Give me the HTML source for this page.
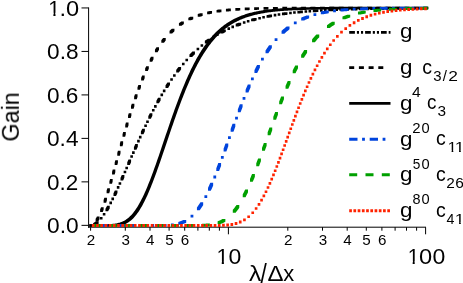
<!DOCTYPE html><html><head><meta charset="utf-8"><style>html,body{margin:0;padding:0;background:#fff}svg{display:block}text{font-family:"Liberation Sans",sans-serif;fill:#000}</style></head><body>
<svg width="463" height="283" viewBox="0 0 463 283">
<rect width="463" height="283" fill="#fff"/>
<g stroke="#000" stroke-width="1" fill="none">
<path d="M88.6 7.45V227.7"/>
<path d="M88.1 227.2H426"/>
<path d="M81.5 7.95H88.6"/>
<path d="M81.5 51.43H88.6"/>
<path d="M81.5 94.91H88.6"/>
<path d="M81.5 138.39H88.6"/>
<path d="M81.5 181.87H88.6"/>
<path d="M81.5 225.35H88.6"/>
<path d="M90.6 227.2V230.7"/>
<path d="M125.3 227.2V230.7"/>
<path d="M150.0 227.2V230.7"/>
<path d="M169.1 227.2V230.7"/>
<path d="M184.7 227.2V230.7"/>
<path d="M197.9 227.2V230.7"/>
<path d="M209.3 227.2V230.7"/>
<path d="M219.4 227.2V230.7"/>
<path d="M287.8 227.2V230.7"/>
<path d="M322.5 227.2V230.7"/>
<path d="M347.2 227.2V230.7"/>
<path d="M366.3 227.2V230.7"/>
<path d="M381.9 227.2V230.7"/>
<path d="M395.1 227.2V230.7"/>
<path d="M406.5 227.2V230.7"/>
<path d="M416.6 227.2V230.7"/>
<path d="M228.4 227.2V234.3"/>
<path d="M425.6 227.2V234.3"/>
</g>
<path fill="#000" d="M93.11 225.79L93.11 223.19L93.11 223.18L93.79 222.81L94.46 222.37L95.13 221.88L95.80 221.34L96.04 221.14L98.64 221.14L98.64 223.74L98.40 223.94L97.73 224.48L97.06 224.97L96.39 225.41L95.71 225.78L95.71 225.79ZM99.93 219.56L99.93 216.96L99.93 216.96L102.53 216.96L102.53 219.56L102.53 219.56ZM102.80 215.59L102.80 212.99L102.80 212.99L105.40 212.99L105.40 215.59L105.40 215.59ZM105.45 211.33L105.45 208.73L105.50 208.64L106.18 207.48L106.85 206.29L107.12 205.80L109.72 205.80L109.72 208.40L109.45 208.89L108.78 210.08L108.10 211.24L108.05 211.33ZM109.40 204.14L109.40 201.54L109.40 201.54L112.00 201.54L112.00 204.14L112.00 204.14ZM111.42 200.16L111.42 197.56L111.42 197.56L114.02 197.56L114.02 200.16L114.02 200.16ZM113.48 195.91L113.48 193.31L113.52 193.23L114.19 191.81L114.86 190.38L117.46 190.38L117.46 192.98L116.79 194.41L116.12 195.83L116.08 195.91ZM116.82 188.72L116.82 186.12L116.82 186.12L119.42 186.12L119.42 188.72L119.42 188.72ZM118.61 184.74L118.61 182.14L118.61 182.14L121.21 182.14L121.21 184.74L121.21 184.74ZM120.50 180.48L120.50 177.88L120.53 177.83L121.20 176.30L121.79 174.95L124.39 174.95L124.39 177.55L123.80 178.90L123.13 180.43L123.10 180.48ZM123.65 173.30L123.65 170.70L123.65 170.70L126.25 170.70L126.25 173.30L126.25 173.30ZM125.37 169.32L125.37 166.72L125.37 166.72L127.97 166.72L127.97 169.32L127.97 169.32ZM127.22 165.06L127.22 162.46L127.26 162.37L127.93 160.81L128.48 159.53L131.08 159.53L131.08 162.13L130.53 163.41L129.86 164.97L129.82 165.06ZM130.33 157.87L130.33 155.27L130.33 155.27L132.93 155.27L132.93 157.87L132.93 157.87ZM132.07 153.90L132.07 151.30L132.07 151.30L134.67 151.30L134.67 153.90L134.67 153.90ZM133.94 149.64L133.94 147.04L133.98 146.93L134.66 145.41L135.23 144.11L137.83 144.11L137.83 146.71L137.26 148.01L136.58 149.53L136.54 149.64ZM137.14 142.45L137.14 139.85L137.14 139.85L139.74 139.85L139.74 142.45L139.74 142.45ZM138.94 138.47L138.94 135.87L138.94 135.87L141.54 135.87L141.54 138.47L141.54 138.47ZM140.89 134.21L140.89 131.61L140.94 131.52L141.61 130.07L142.26 128.69L144.86 128.69L144.86 131.29L144.21 132.67L143.54 134.12L143.49 134.21ZM144.27 127.03L144.27 124.43L144.27 124.43L146.87 124.43L146.87 127.03L146.87 127.03ZM146.19 123.05L146.19 120.45L146.19 120.45L148.79 120.45L148.79 123.05L148.79 123.05ZM148.29 118.79L148.29 116.19L148.34 116.10L149.01 114.76L149.68 113.43L149.77 113.26L152.37 113.26L152.37 115.86L152.28 116.03L151.61 117.36L150.94 118.70L150.89 118.79ZM151.96 111.60L151.96 109.00L151.96 109.00L154.56 109.00L154.56 111.60L154.56 111.60ZM154.06 107.63L154.06 105.03L154.06 105.03L156.66 105.03L156.66 107.63L156.66 107.63ZM156.38 103.37L156.38 100.77L156.41 100.72L157.08 99.51L157.76 98.31L158.02 97.84L160.62 97.84L160.62 100.44L160.36 100.91L159.68 102.11L159.01 103.32L158.98 103.37ZM160.48 96.18L160.48 93.58L160.48 93.58L163.08 93.58L163.08 96.18L163.08 96.18ZM162.86 92.20L162.86 89.60L162.86 89.60L165.46 89.60L165.46 92.20L165.46 92.20ZM165.51 87.95L165.51 85.35L165.55 85.28L166.22 84.23L166.89 83.19L167.40 82.42L170.00 82.42L170.00 85.02L169.49 85.79L168.82 86.83L168.15 87.88L168.11 87.95ZM170.25 80.76L170.25 78.16L170.25 78.16L172.85 78.16L172.85 80.76L172.85 80.76ZM173.05 76.78L173.05 74.18L173.05 74.18L175.65 74.18L175.65 76.78L175.65 76.78ZM176.20 72.52L176.20 69.92L176.26 69.85L176.93 68.97L177.60 68.11L178.28 67.25L178.48 66.99L181.08 66.99L181.08 69.59L180.88 69.85L180.20 70.71L179.53 71.57L178.86 72.45L178.80 72.52ZM181.97 65.33L181.97 62.73L181.97 62.73L184.57 62.73L184.57 65.33L184.57 65.33ZM185.44 61.36L185.44 58.76L185.44 58.76L188.04 58.76L188.04 61.36L188.04 61.36ZM189.43 57.10L189.43 54.50L189.43 54.50L190.11 53.81L190.78 53.13L191.45 52.47L192.12 51.81L192.34 51.59L194.94 51.59L194.94 54.19L194.72 54.41L194.05 55.07L193.38 55.73L192.71 56.41L192.03 57.10L192.03 57.10ZM196.60 50.24L196.60 47.64L196.60 47.64L199.20 47.64L199.20 50.24L199.20 50.24ZM200.58 46.83L200.58 44.23L200.58 44.23L203.18 44.23L203.18 46.83L203.18 46.83ZM204.84 43.48L204.84 40.88L204.85 40.87L205.52 40.36L206.20 39.87L206.87 39.38L207.54 38.89L207.77 38.74L210.37 38.74L210.37 41.34L210.14 41.49L209.47 41.98L208.80 42.47L208.12 42.96L207.45 43.47L207.44 43.48ZM212.02 38.45L212.02 35.85L212.02 35.85L214.62 35.85L214.62 38.45L214.62 38.45ZM216.00 35.97L216.00 33.37L216.00 33.37L218.60 33.37L218.60 35.97L218.60 35.97ZM220.26 33.55L220.26 30.95L220.27 30.94L220.94 30.58L221.62 30.22L222.29 29.87L222.96 29.52L223.19 29.40L225.79 29.40L225.79 32.00L225.56 32.12L224.89 32.47L224.22 32.82L223.54 33.18L222.87 33.54L222.86 33.55ZM227.45 29.92L227.45 27.32L227.45 27.32L230.05 27.32L230.05 29.92L230.05 29.92ZM231.42 28.15L231.42 25.55L231.42 25.55L234.02 25.55L234.02 28.15L234.02 28.15ZM235.68 26.41L235.68 23.81L235.69 23.81L236.36 23.55L237.03 23.30L237.71 23.04L238.38 22.80L238.61 22.71L241.21 22.71L241.21 25.31L240.98 25.40L240.31 25.64L239.63 25.90L238.96 26.15L238.29 26.41L238.28 26.41ZM242.87 23.83L242.87 21.23L242.87 21.23L245.47 21.23L245.47 23.83L245.47 23.83ZM246.85 22.57L246.85 19.97L246.85 19.97L249.45 19.97L249.45 22.57L249.45 22.57ZM251.11 21.34L251.11 18.74L251.16 18.72L251.83 18.54L252.51 18.36L253.18 18.18L253.85 18.00L254.04 17.95L256.64 17.95L256.64 20.55L256.45 20.60L255.78 20.78L255.11 20.96L254.43 21.14L253.76 21.32L253.71 21.34ZM258.29 19.51L258.29 16.91L258.29 16.91L260.89 16.91L260.89 19.51L260.89 19.51ZM262.27 18.61L262.27 16.01L262.27 16.01L264.87 16.01L264.87 18.61L264.87 18.61ZM266.53 17.74L266.53 15.14L266.58 15.13L267.25 15.00L267.93 14.88L268.60 14.75L269.27 14.63L269.46 14.59L272.06 14.59L272.06 17.19L271.87 17.23L271.20 17.35L270.53 17.48L269.85 17.60L269.18 17.73L269.13 17.74ZM273.72 16.45L273.72 13.85L273.72 13.85L276.32 13.85L276.32 16.45L276.32 16.45ZM277.69 15.83L277.69 13.23L277.69 13.23L280.29 13.23L280.29 15.83L280.29 15.83ZM281.95 15.21L281.95 12.61L282.00 12.61L282.67 12.52L283.34 12.43L284.02 12.34L284.69 12.25L284.88 12.23L287.48 12.23L287.48 14.83L287.29 14.85L286.62 14.94L285.94 15.03L285.27 15.12L284.60 15.21L284.55 15.21ZM289.14 14.31L289.14 11.71L289.14 11.71L291.74 11.71L291.74 14.31L291.74 14.31ZM293.12 13.87L293.12 11.27L293.12 11.27L295.72 11.27L295.72 13.87L295.72 13.87ZM297.38 13.44L297.38 10.84L297.42 10.83L298.09 10.77L298.76 10.71L299.43 10.64L300.11 10.58L300.30 10.56L302.90 10.56L302.90 13.16L302.71 13.18L302.03 13.24L301.36 13.31L300.69 13.37L300.02 13.43L299.98 13.44ZM304.56 12.80L304.56 10.20L304.56 10.20L307.16 10.20L307.16 12.80L307.16 12.80ZM308.54 12.49L308.54 9.89L308.54 9.89L311.14 9.89L311.14 12.49L311.14 12.49ZM312.80 12.19L312.80 9.59L312.83 9.59L313.51 9.54L314.18 9.50L314.85 9.46L315.53 9.41L315.73 9.40L318.33 9.40L318.33 12.00L318.13 12.01L317.45 12.06L316.78 12.10L316.11 12.14L315.43 12.19L315.40 12.19ZM319.99 11.75L319.99 9.15L319.99 9.15L322.59 9.15L322.59 11.75L322.59 11.75ZM323.96 11.53L323.96 8.93L323.96 8.93L326.56 8.93L326.56 11.53L326.56 11.53ZM328.22 11.32L328.22 8.72L328.25 8.72L328.92 8.69L329.60 8.66L330.27 8.63L330.94 8.60L331.15 8.59L333.75 8.59L333.75 11.19L333.54 11.20L332.87 11.23L332.20 11.26L331.52 11.29L330.85 11.32L330.82 11.32ZM335.41 11.01L335.41 8.41L335.41 8.41L338.01 8.41L338.01 11.01L338.01 11.01ZM339.39 10.86L339.39 8.26L339.39 8.26L341.99 8.26L341.99 10.86L341.99 10.86ZM343.64 10.71L343.64 8.11L343.67 8.11L344.34 8.09L345.02 8.07L345.69 8.04L346.36 8.02L346.57 8.02L349.17 8.02L349.17 10.62L348.96 10.62L348.29 10.64L347.62 10.67L346.94 10.69L346.27 10.71L346.24 10.71ZM350.83 10.49L350.83 7.89L350.83 7.89L353.43 7.89L353.43 10.49L353.43 10.49ZM354.81 10.39L354.81 7.79L354.81 7.79L357.41 7.79L357.41 10.39L357.41 10.39ZM359.07 10.28L359.07 7.68L359.09 7.68L359.76 7.67L360.43 7.65L361.11 7.64L361.78 7.62L362.00 7.62L364.60 7.62L364.60 10.22L364.38 10.22L363.71 10.24L363.03 10.25L362.36 10.27L361.69 10.28L361.67 10.28ZM366.25 10.13L366.25 7.53L366.25 7.53L368.85 7.53L368.85 10.13L368.85 10.13ZM370.23 10.06L370.23 7.46L370.23 7.46L372.83 7.46L372.83 10.06L372.83 10.06ZM374.49 9.99L374.49 7.39L374.51 7.39L375.18 7.38L375.85 7.37L376.52 7.35L377.20 7.34L377.42 7.34L380.02 7.34L380.02 9.94L379.80 9.94L379.12 9.95L378.45 9.97L377.78 9.98L377.11 9.99L377.09 9.99ZM381.68 9.88L381.68 7.28L381.68 7.28L384.28 7.28L384.28 9.88L384.28 9.88ZM385.65 9.83L385.65 7.23L385.65 7.23L388.25 7.23L388.25 9.83L388.25 9.83ZM389.91 9.78L389.91 7.18L389.92 7.18L390.60 7.17L391.27 7.16L391.94 7.16L392.62 7.15L392.84 7.15L395.44 7.15L395.44 9.75L395.22 9.75L394.54 9.76L393.87 9.76L393.20 9.77L392.52 9.78L392.51 9.78ZM397.10 9.71L397.10 7.11L397.10 7.11L399.70 7.11L399.70 9.71L399.70 9.71ZM401.08 9.67L401.08 7.07L401.08 7.07L403.68 7.07L403.68 9.67L403.68 9.67ZM405.34 9.63L405.34 7.03L405.34 7.03L406.02 7.03L406.69 7.02L407.36 7.02L408.03 7.01L408.27 7.01L410.87 7.01L410.87 9.61L410.63 9.61L409.96 9.62L409.29 9.62L408.62 9.63L407.94 9.63L407.94 9.63ZM412.52 9.58L412.52 6.98L412.52 6.98L415.12 6.98L415.12 9.58L415.12 9.58ZM416.50 9.56L416.50 6.96L416.50 6.96L419.10 6.96L419.10 9.56L419.10 9.56ZM420.76 9.53L420.76 6.93L420.76 6.93L421.43 6.93L422.11 6.93L422.78 6.92L423.45 6.92L423.69 6.92L426.29 6.92L426.29 9.52L426.05 9.52L425.38 9.52L424.71 9.53L424.03 9.53L423.36 9.53L423.36 9.53Z"/>
<path fill="#000" d="M89.30 226.80L89.30 224.20L89.32 224.20L91.92 224.20L91.92 226.80L91.90 226.80ZM95.60 221.46L95.60 218.86L95.64 218.80L96.31 217.66L96.91 216.56L99.51 216.56L99.51 219.16L98.91 220.26L98.24 221.40L98.20 221.46ZM100.14 212.06L100.14 209.46L100.18 209.37L100.85 207.67L101.04 207.16L103.64 207.16L103.64 209.76L103.45 210.27L102.78 211.97L102.74 212.06ZM103.59 202.66L103.59 200.06L103.60 200.03L104.27 198.02L104.35 197.76L106.95 197.76L106.95 200.36L106.87 200.62L106.20 202.63L106.19 202.66ZM106.60 193.26L106.60 190.66L106.62 190.59L107.30 188.38L107.30 188.36L109.90 188.36L109.90 190.96L109.90 190.98L109.22 193.19L109.20 193.26ZM109.40 183.86L109.40 181.26L109.43 181.16L110.06 178.96L112.66 178.96L112.66 181.56L112.03 183.76L112.00 183.86ZM112.07 174.46L112.07 171.86L112.12 171.70L112.71 169.56L115.31 169.56L115.31 172.16L114.72 174.30L114.67 174.46ZM114.68 165.06L114.68 162.46L114.70 162.41L115.32 160.16L117.92 160.16L117.92 162.76L117.30 165.01L117.28 165.06ZM117.28 155.66L117.28 153.06L117.28 153.06L117.91 150.76L120.51 150.76L120.51 153.36L119.88 155.66L119.88 155.66ZM119.88 146.26L119.88 143.66L119.91 143.55L120.52 141.36L123.12 141.36L123.12 143.96L122.51 146.15L122.48 146.26ZM122.53 136.86L122.53 134.26L122.55 134.19L123.18 131.96L125.78 131.96L125.78 134.56L125.15 136.79L125.13 136.86ZM125.24 127.46L125.24 124.86L125.29 124.69L125.92 122.56L128.52 122.56L128.52 125.16L127.89 127.29L127.84 127.46ZM128.06 118.06L128.06 115.46L128.10 115.35L128.77 113.16L131.37 113.16L131.37 115.76L130.70 117.95L130.66 118.06ZM131.01 108.66L131.01 106.06L131.01 106.06L131.69 103.99L131.76 103.76L134.36 103.76L134.36 106.36L134.29 106.59L133.61 108.66L133.61 108.66ZM134.14 99.26L134.14 96.66L134.15 96.62L134.83 94.68L134.93 94.36L137.53 94.36L137.53 96.96L137.43 97.28L136.75 99.22L136.74 99.26ZM137.49 89.86L137.49 87.26L137.52 87.18L138.19 85.38L138.35 84.96L140.95 84.96L140.95 87.56L140.79 87.98L140.12 89.78L140.09 89.86ZM141.13 80.46L141.13 77.86L141.16 77.78L141.83 76.13L142.07 75.56L144.67 75.56L144.67 78.16L144.43 78.73L143.76 80.38L143.73 80.46ZM145.15 71.06L145.15 68.46L145.20 68.35L145.87 66.88L146.20 66.16L148.80 66.16L148.80 68.76L148.47 69.48L147.80 70.95L147.75 71.06ZM149.69 61.66L149.69 59.06L149.74 58.96L150.41 57.68L150.90 56.76L153.50 56.76L153.50 59.36L153.01 60.28L152.34 61.56L152.29 61.66ZM154.96 52.26L154.96 49.66L155.01 49.58L155.68 48.49L156.35 47.43L156.40 47.36L159.00 47.36L159.00 49.96L158.95 50.03L158.28 51.09L157.61 52.18L157.56 52.26ZM161.33 42.86L161.33 40.26L161.34 40.25L162.02 39.37L162.69 38.51L163.13 37.96L165.73 37.96L165.73 40.56L165.29 41.11L164.62 41.97L163.94 42.85L163.93 42.86ZM169.54 33.47L169.54 30.87L169.59 30.82L170.26 30.17L170.93 29.54L171.60 28.92L171.84 28.70L174.44 28.70L174.44 31.30L174.20 31.52L173.53 32.14L172.86 32.77L172.19 33.42L172.14 33.47ZM178.94 25.69L178.94 23.09L178.95 23.09L179.62 22.63L180.29 22.19L180.97 21.76L181.24 21.58L183.84 21.58L183.84 24.18L183.57 24.36L182.89 24.79L182.22 25.23L181.55 25.69L181.54 25.69ZM188.34 20.31L188.34 17.71L188.37 17.70L189.04 17.38L189.71 17.08L190.39 16.78L190.64 16.67L193.24 16.67L193.24 19.27L192.99 19.38L192.31 19.68L191.64 19.98L190.97 20.30L190.94 20.31ZM197.74 16.63L197.74 14.03L197.79 14.02L198.46 13.80L199.13 13.60L199.81 13.40L200.04 13.33L202.64 13.33L202.64 15.93L202.41 16.00L201.73 16.20L201.06 16.40L200.39 16.62L200.34 16.63ZM207.14 14.15L207.14 11.55L207.15 11.55L207.82 11.41L208.50 11.27L209.17 11.13L209.44 11.08L212.04 11.08L212.04 13.68L211.77 13.73L211.10 13.87L210.42 14.01L209.75 14.15L209.74 14.15ZM216.54 12.49L216.54 9.89L216.57 9.89L217.24 9.79L217.91 9.70L218.59 9.61L218.84 9.58L221.44 9.58L221.44 12.18L221.19 12.21L220.51 12.30L219.84 12.39L219.17 12.49L219.14 12.49ZM225.94 11.39L225.94 8.79L225.99 8.79L226.66 8.73L227.33 8.67L228.01 8.61L228.24 8.59L230.84 8.59L230.84 11.19L230.61 11.21L229.93 11.27L229.26 11.33L228.59 11.39L228.54 11.39ZM235.34 10.67L235.34 8.07L235.35 8.07L236.02 8.03L236.70 7.99L237.37 7.95L237.64 7.93L240.24 7.93L240.24 10.53L239.97 10.55L239.30 10.59L238.62 10.63L237.95 10.67L237.94 10.67ZM244.74 10.19L244.74 7.59L244.77 7.59L245.44 7.56L246.12 7.54L246.79 7.51L247.04 7.50L249.64 7.50L249.64 10.10L249.39 10.11L248.72 10.14L248.04 10.16L247.37 10.19L247.34 10.19ZM254.14 9.88L254.14 7.28L254.19 7.28L254.86 7.26L255.53 7.24L256.21 7.23L256.44 7.22L259.04 7.22L259.04 9.82L258.81 9.83L258.13 9.84L257.46 9.86L256.79 9.88L256.74 9.88ZM263.54 9.68L263.54 7.08L263.55 7.08L264.23 7.06L264.90 7.05L265.57 7.04L265.84 7.04L268.44 7.04L268.44 9.64L268.17 9.64L267.50 9.65L266.83 9.66L266.15 9.68L266.14 9.68ZM272.94 9.54L272.94 6.94L272.97 6.94L273.64 6.94L274.32 6.93L274.99 6.92L275.24 6.92L277.84 6.92L277.84 9.52L277.59 9.52L276.92 9.53L276.24 9.54L275.57 9.54L275.54 9.54ZM282.34 9.46L282.34 6.86L282.39 6.86L283.06 6.85L283.74 6.85L284.41 6.84L284.64 6.84L287.24 6.84L287.24 9.44L287.01 9.44L286.34 9.45L285.66 9.45L284.99 9.46L284.94 9.46ZM291.74 9.40L291.74 6.80L291.75 6.80L292.43 6.80L293.10 6.80L293.77 6.79L294.04 6.79L296.64 6.79L296.64 9.39L296.37 9.39L295.70 9.40L295.03 9.40L294.35 9.40L294.34 9.40ZM301.14 9.37L301.14 6.77L301.17 6.77L301.85 6.76L302.52 6.76L303.19 6.76L303.44 6.76L306.04 6.76L306.04 9.36L305.79 9.36L305.12 9.36L304.45 9.36L303.77 9.37L303.74 9.37ZM310.54 9.34L310.54 6.74L310.59 6.74L311.26 6.74L311.94 6.74L312.61 6.74L312.84 6.74L315.44 6.74L315.44 9.34L315.21 9.34L314.54 9.34L313.86 9.34L313.19 9.34L313.14 9.34ZM319.94 9.33L319.94 6.73L319.95 6.73L320.63 6.73L321.30 6.73L321.97 6.73L322.24 6.72L324.84 6.72L324.84 9.32L324.57 9.33L323.90 9.33L323.23 9.33L322.55 9.33L322.54 9.33ZM329.34 9.32L329.34 6.72L329.37 6.72L330.05 6.72L330.72 6.72L331.39 6.72L331.64 6.72L334.24 6.72L334.24 9.32L333.99 9.32L333.32 9.32L332.65 9.32L331.97 9.32L331.94 9.32ZM338.74 9.31L338.74 6.71L338.79 6.71L339.47 6.71L340.14 6.71L340.81 6.71L341.04 6.71L343.64 6.71L343.64 9.31L343.41 9.31L342.74 9.31L342.07 9.31L341.39 9.31L341.34 9.31ZM348.14 9.31L348.14 6.71L348.16 6.71L348.83 6.71L349.50 6.71L350.17 6.71L350.44 6.71L353.04 6.71L353.04 9.31L352.77 9.31L352.10 9.31L351.43 9.31L350.76 9.31L350.74 9.31ZM357.54 9.30L357.54 6.70L357.57 6.70L358.25 6.70L358.92 6.70L359.59 6.70L359.84 6.70L362.44 6.70L362.44 9.30L362.19 9.30L361.52 9.30L360.85 9.30L360.17 9.30L360.14 9.30ZM366.94 9.30L366.94 6.70L366.99 6.70L367.67 6.70L368.34 6.70L369.01 6.70L369.24 6.70L371.84 6.70L371.84 9.30L371.61 9.30L370.94 9.30L370.27 9.30L369.59 9.30L369.54 9.30ZM376.34 9.30L376.34 6.70L376.36 6.70L377.03 6.70L377.70 6.70L378.37 6.70L378.64 6.70L381.24 6.70L381.24 9.30L380.97 9.30L380.30 9.30L379.63 9.30L378.96 9.30L378.94 9.30ZM385.74 9.30L385.74 6.70L385.78 6.70L386.45 6.70L387.12 6.70L387.79 6.70L388.04 6.70L390.64 6.70L390.64 9.30L390.39 9.30L389.72 9.30L389.05 9.30L388.38 9.30L388.34 9.30ZM395.14 9.30L395.14 6.70L395.19 6.70L395.87 6.70L396.54 6.70L397.21 6.70L397.44 6.70L400.04 6.70L400.04 9.30L399.81 9.30L399.14 9.30L398.47 9.30L397.79 9.30L397.74 9.30ZM404.54 9.30L404.54 6.70L404.56 6.70L405.23 6.70L405.90 6.70L406.58 6.70L406.84 6.70L409.44 6.70L409.44 9.30L409.18 9.30L408.50 9.30L407.83 9.30L407.16 9.30L407.14 9.30ZM413.94 9.30L413.94 6.70L413.98 6.70L414.65 6.70L415.32 6.70L416.00 6.70L416.24 6.70L418.84 6.70L418.84 9.30L418.60 9.30L417.92 9.30L417.25 9.30L416.58 9.30L416.54 9.30ZM423.34 9.30L423.34 6.70L423.40 6.70L424.07 6.70L424.74 6.70L425.41 6.70L425.64 6.70L428.24 6.70L428.24 9.30L428.01 9.30L427.34 9.30L426.67 9.30L426.00 9.30L425.94 9.30Z"/>
<path fill="#000" d="M89.30 226.80L89.30 224.20L90.14 224.20L90.98 224.20L91.82 224.20L92.66 224.20L93.50 224.20L94.35 224.20L95.19 224.20L96.03 224.20L96.87 224.20L97.71 224.20L98.55 224.20L99.39 224.20L100.23 224.20L101.07 224.20L101.91 224.20L102.76 224.19L103.60 224.19L104.44 224.18L105.28 224.18L106.12 224.17L106.96 224.15L107.80 224.13L108.64 224.11L109.48 224.08L110.32 224.04L111.17 224.00L112.01 223.94L112.85 223.87L113.74 223.78L114.59 223.68L115.43 223.56L116.27 223.42L117.11 223.26L117.95 223.08L118.79 222.87L119.63 222.63L120.47 222.36L121.31 222.05L122.15 221.71L123.00 221.33L123.84 220.90L124.68 220.44L125.52 219.92L126.36 219.36L127.20 218.75L128.04 218.09L128.88 217.38L129.72 216.61L130.56 215.78L131.41 214.89L132.25 213.95L133.09 212.94L133.93 211.87L134.77 210.74L135.61 209.55L136.45 208.30L137.35 206.89L138.19 205.51L139.03 204.07L139.87 202.56L140.71 201.00L141.55 199.37L142.39 197.68L143.24 195.94L144.08 194.14L144.92 192.29L145.76 190.38L146.60 188.43L147.44 186.42L148.28 184.37L149.12 182.27L149.96 180.13L150.80 177.94L151.65 175.72L152.49 173.47L153.33 171.18L154.17 168.86L155.01 166.51L155.85 164.13L156.69 161.74L157.53 159.32L158.37 156.88L159.21 154.43L160.05 151.96L160.90 149.48L161.79 146.83L162.63 144.34L163.47 141.85L164.32 139.35L165.16 136.86L166.00 134.37L166.84 131.88L167.68 129.40L168.52 126.93L169.36 124.48L170.20 122.03L171.04 119.60L171.88 117.19L172.73 114.80L173.57 112.42L174.41 110.07L175.25 107.74L176.09 105.43L176.93 103.15L177.77 100.89L178.61 98.66L179.45 96.46L180.29 94.29L181.14 92.15L181.98 90.04L182.82 87.96L183.66 85.91L184.50 83.89L185.40 81.78L186.24 79.83L187.08 77.92L187.92 76.03L188.76 74.19L189.60 72.38L190.44 70.60L191.28 68.86L192.12 67.15L192.97 65.47L193.81 63.83L194.65 62.23L195.49 60.66L196.33 59.12L197.17 57.62L198.01 56.15L198.85 54.71L199.69 53.31L200.53 51.94L201.38 50.60L202.22 49.30L203.06 48.03L203.90 46.78L204.74 45.57L205.58 44.39L206.42 43.24L207.26 42.12L208.10 41.03L208.94 39.96L209.84 38.86L210.68 37.85L211.52 36.88L212.36 35.92L213.21 35.00L214.05 34.10L214.89 33.22L215.73 32.37L216.57 31.55L217.41 30.74L218.25 29.96L219.09 29.21L219.93 28.47L220.77 27.76L221.62 27.07L222.46 26.40L223.30 25.74L224.14 25.11L224.98 24.50L225.82 23.90L226.66 23.33L227.50 22.77L228.34 22.23L229.18 21.70L230.03 21.20L230.87 20.70L231.71 20.23L232.55 19.76L233.45 19.29L234.29 18.86L235.13 18.44L235.97 18.03L236.81 17.64L237.65 17.26L238.49 16.90L239.33 16.54L240.17 16.20L241.01 15.87L241.85 15.55L242.70 15.24L243.54 14.94L244.38 14.65L245.22 14.37L246.06 14.10L246.90 13.83L247.74 13.58L248.58 13.34L249.42 13.10L250.26 12.87L251.11 12.65L251.95 12.44L252.79 12.24L253.63 12.04L254.47 11.85L255.31 11.66L256.15 11.48L256.99 11.31L257.89 11.13L258.73 10.97L259.57 10.82L260.41 10.67L261.25 10.53L262.09 10.39L262.94 10.25L263.78 10.12L264.62 10.00L265.46 9.88L266.30 9.76L267.14 9.65L267.98 9.54L268.82 9.44L269.66 9.34L270.50 9.24L271.35 9.15L272.19 9.06L273.03 8.97L273.87 8.89L274.71 8.81L275.55 8.73L276.39 8.65L277.23 8.58L278.07 8.51L278.91 8.44L279.76 8.38L280.60 8.32L281.49 8.25L282.33 8.20L283.18 8.14L284.02 8.09L284.86 8.04L285.70 7.99L286.54 7.94L287.38 7.89L288.22 7.85L289.06 7.80L289.90 7.76L290.74 7.72L291.59 7.69L292.43 7.65L293.27 7.61L294.11 7.58L294.95 7.55L295.79 7.51L296.63 7.48L297.47 7.45L298.31 7.43L299.15 7.40L300.00 7.37L300.84 7.35L301.68 7.32L302.52 7.30L303.36 7.28L304.20 7.25L305.04 7.23L305.94 7.21L306.78 7.19L307.62 7.17L308.46 7.16L309.30 7.14L310.14 7.12L310.98 7.11L311.82 7.09L312.67 7.08L313.51 7.06L314.35 7.05L315.19 7.04L316.03 7.02L316.87 7.01L317.71 7.00L318.55 6.99L319.39 6.98L320.23 6.97L321.08 6.96L321.92 6.95L322.76 6.94L323.60 6.93L324.44 6.92L325.28 6.91L326.12 6.90L326.96 6.90L327.80 6.89L328.64 6.88L329.54 6.87L330.38 6.87L331.22 6.86L332.06 6.85L332.91 6.85L333.75 6.84L334.59 6.84L335.43 6.83L336.27 6.83L337.11 6.82L337.95 6.82L338.79 6.81L339.63 6.81L340.47 6.80L341.32 6.80L342.16 6.80L343.00 6.79L343.84 6.79L344.68 6.79L345.52 6.78L346.36 6.78L347.20 6.78L348.04 6.77L348.88 6.77L349.73 6.77L350.57 6.77L351.41 6.76L352.25 6.76L353.09 6.76L353.99 6.76L354.83 6.75L355.67 6.75L356.51 6.75L357.35 6.75L358.19 6.75L359.03 6.74L359.87 6.74L360.71 6.74L361.56 6.74L362.40 6.74L363.24 6.74L364.08 6.73L364.92 6.73L365.76 6.73L366.60 6.73L367.44 6.73L368.28 6.73L369.12 6.73L369.97 6.73L370.81 6.73L371.65 6.72L372.49 6.72L373.33 6.72L374.17 6.72L375.01 6.72L375.85 6.72L376.69 6.72L377.59 6.72L378.43 6.72L379.27 6.72L380.11 6.72L380.95 6.72L381.79 6.72L382.64 6.71L383.48 6.71L384.32 6.71L385.16 6.71L386.00 6.71L386.84 6.71L387.68 6.71L388.52 6.71L389.36 6.71L390.20 6.71L391.05 6.71L391.89 6.71L392.73 6.71L393.57 6.71L394.41 6.71L395.25 6.71L396.09 6.71L396.93 6.71L397.77 6.71L398.61 6.71L399.46 6.71L400.30 6.71L401.14 6.71L402.03 6.71L402.88 6.71L403.72 6.71L404.56 6.71L405.40 6.71L406.24 6.70L407.08 6.70L407.92 6.70L408.76 6.70L409.60 6.70L410.44 6.70L411.29 6.70L412.13 6.70L412.97 6.70L413.81 6.70L414.65 6.70L415.49 6.70L416.33 6.70L417.17 6.70L418.01 6.70L418.85 6.70L419.70 6.70L420.54 6.70L421.38 6.70L422.22 6.70L423.06 6.70L423.90 6.70L424.74 6.70L425.64 6.70L428.24 6.70L428.24 9.30L427.34 9.30L426.50 9.30L425.66 9.30L424.82 9.30L423.98 9.30L423.14 9.30L422.30 9.30L421.45 9.30L420.61 9.30L419.77 9.30L418.93 9.30L418.09 9.30L417.25 9.30L416.41 9.30L415.57 9.30L414.73 9.30L413.89 9.30L413.04 9.30L412.20 9.30L411.36 9.30L410.52 9.30L409.68 9.30L408.84 9.30L408.00 9.31L407.16 9.31L406.32 9.31L405.48 9.31L404.63 9.31L403.74 9.31L402.90 9.31L402.06 9.31L401.21 9.31L400.37 9.31L399.53 9.31L398.69 9.31L397.85 9.31L397.01 9.31L396.17 9.31L395.33 9.31L394.49 9.31L393.65 9.31L392.80 9.31L391.96 9.31L391.12 9.31L390.28 9.31L389.44 9.31L388.60 9.31L387.76 9.31L386.92 9.31L386.08 9.31L385.24 9.31L384.39 9.32L383.55 9.32L382.71 9.32L381.87 9.32L381.03 9.32L380.19 9.32L379.29 9.32L378.45 9.32L377.61 9.32L376.77 9.32L375.93 9.32L375.09 9.32L374.25 9.32L373.41 9.33L372.57 9.33L371.72 9.33L370.88 9.33L370.04 9.33L369.20 9.33L368.36 9.33L367.52 9.33L366.68 9.33L365.84 9.34L365.00 9.34L364.16 9.34L363.31 9.34L362.47 9.34L361.63 9.34L360.79 9.35L359.95 9.35L359.11 9.35L358.27 9.35L357.43 9.35L356.59 9.36L355.69 9.36L354.85 9.36L354.01 9.36L353.17 9.37L352.33 9.37L351.48 9.37L350.64 9.37L349.80 9.38L348.96 9.38L348.12 9.38L347.28 9.39L346.44 9.39L345.60 9.39L344.76 9.40L343.92 9.40L343.07 9.40L342.23 9.41L341.39 9.41L340.55 9.42L339.71 9.42L338.87 9.43L338.03 9.43L337.19 9.44L336.35 9.44L335.51 9.45L334.66 9.45L333.82 9.46L332.98 9.47L332.14 9.47L331.24 9.48L330.40 9.49L329.56 9.50L328.72 9.50L327.88 9.51L327.04 9.52L326.20 9.53L325.36 9.54L324.52 9.55L323.68 9.56L322.83 9.57L321.99 9.58L321.15 9.59L320.31 9.60L319.47 9.61L318.63 9.62L317.79 9.64L316.95 9.65L316.11 9.66L315.27 9.68L314.42 9.69L313.58 9.71L312.74 9.72L311.90 9.74L311.06 9.76L310.22 9.77L309.38 9.79L308.54 9.81L307.64 9.83L306.80 9.85L305.96 9.88L305.12 9.90L304.28 9.92L303.44 9.95L302.60 9.97L301.75 10.00L300.91 10.03L300.07 10.05L299.23 10.08L298.39 10.11L297.55 10.15L296.71 10.18L295.87 10.21L295.03 10.25L294.19 10.29L293.34 10.32L292.50 10.36L291.66 10.40L290.82 10.45L289.98 10.49L289.14 10.54L288.30 10.59L287.46 10.64L286.62 10.69L285.78 10.74L284.93 10.80L284.09 10.85L283.20 10.92L282.36 10.98L281.51 11.04L280.67 11.11L279.83 11.18L278.99 11.25L278.15 11.33L277.31 11.41L276.47 11.49L275.63 11.57L274.79 11.66L273.95 11.75L273.10 11.84L272.26 11.94L271.42 12.04L270.58 12.14L269.74 12.25L268.90 12.36L268.06 12.48L267.22 12.60L266.38 12.72L265.54 12.85L264.69 12.99L263.85 13.13L263.01 13.27L262.17 13.42L261.33 13.57L260.49 13.73L259.59 13.91L258.75 14.08L257.91 14.26L257.07 14.45L256.23 14.64L255.39 14.84L254.55 15.04L253.71 15.25L252.86 15.47L252.02 15.70L251.18 15.94L250.34 16.18L249.50 16.43L248.66 16.70L247.82 16.97L246.98 17.25L246.14 17.54L245.30 17.84L244.45 18.15L243.61 18.47L242.77 18.80L241.93 19.14L241.09 19.50L240.25 19.86L239.41 20.24L238.57 20.63L237.73 21.04L236.89 21.46L236.05 21.89L235.15 22.36L234.31 22.83L233.47 23.30L232.63 23.80L231.78 24.30L230.94 24.83L230.10 25.37L229.26 25.93L228.42 26.50L227.58 27.10L226.74 27.71L225.90 28.34L225.06 29.00L224.22 29.67L223.37 30.36L222.53 31.07L221.69 31.81L220.85 32.56L220.01 33.34L219.17 34.15L218.33 34.97L217.49 35.82L216.65 36.70L215.81 37.60L214.96 38.52L214.12 39.48L213.28 40.45L212.44 41.46L211.54 42.56L210.70 43.63L209.86 44.72L209.02 45.84L208.18 46.99L207.34 48.17L206.50 49.38L205.66 50.63L204.82 51.90L203.98 53.20L203.13 54.54L202.29 55.91L201.45 57.31L200.61 58.75L199.77 60.22L198.93 61.72L198.09 63.26L197.25 64.83L196.41 66.43L195.57 68.07L194.72 69.75L193.88 71.46L193.04 73.20L192.20 74.98L191.36 76.79L190.52 78.63L189.68 80.52L188.84 82.43L188.00 84.38L187.10 86.49L186.26 88.51L185.42 90.56L184.58 92.64L183.74 94.75L182.89 96.89L182.05 99.06L181.21 101.26L180.37 103.49L179.53 105.75L178.69 108.03L177.85 110.34L177.01 112.67L176.17 115.02L175.33 117.40L174.48 119.79L173.64 122.20L172.80 124.63L171.96 127.08L171.12 129.53L170.28 132.00L169.44 134.48L168.60 136.97L167.76 139.46L166.92 141.95L166.07 144.45L165.23 146.94L164.39 149.43L163.50 152.08L162.65 154.56L161.81 157.03L160.97 159.48L160.13 161.92L159.29 164.34L158.45 166.73L157.61 169.11L156.77 171.46L155.93 173.78L155.09 176.07L154.25 178.32L153.40 180.54L152.56 182.73L151.72 184.87L150.88 186.97L150.04 189.02L149.20 191.03L148.36 192.98L147.52 194.89L146.68 196.74L145.84 198.54L144.99 200.28L144.15 201.97L143.31 203.60L142.47 205.16L141.63 206.67L140.79 208.11L139.95 209.49L139.05 210.90L138.21 212.15L137.37 213.34L136.53 214.47L135.69 215.54L134.85 216.55L134.01 217.49L133.16 218.38L132.32 219.21L131.48 219.98L130.64 220.69L129.80 221.35L128.96 221.96L128.12 222.52L127.28 223.04L126.44 223.50L125.60 223.93L124.75 224.31L123.91 224.65L123.07 224.96L122.23 225.23L121.39 225.47L120.55 225.68L119.71 225.86L118.87 226.02L118.03 226.16L117.19 226.28L116.34 226.38L115.45 226.47L114.61 226.54L113.77 226.60L112.92 226.64L112.08 226.68L111.24 226.71L110.40 226.73L109.56 226.75L108.72 226.77L107.88 226.78L107.04 226.78L106.20 226.79L105.36 226.79L104.51 226.80L103.67 226.80L102.83 226.80L101.99 226.80L101.15 226.80L100.31 226.80L99.47 226.80L98.63 226.80L97.79 226.80L96.95 226.80L96.10 226.80L95.26 226.80L94.42 226.80L93.58 226.80L92.74 226.80L91.90 226.80Z"/>
<path fill="#0044dd" d="M92.41 226.90L92.41 224.10L92.41 224.10L95.21 224.10L95.21 226.90L95.21 226.90ZM99.75 226.90L99.75 224.10L99.80 224.10L100.47 224.10L101.14 224.10L101.81 224.10L102.49 224.10L103.16 224.10L103.83 224.10L104.51 224.10L104.89 224.10L107.69 224.10L107.69 226.90L107.31 226.90L106.63 226.90L105.96 226.90L105.29 226.90L104.61 226.90L103.94 226.90L103.27 226.90L102.60 226.90L102.55 226.90ZM112.04 226.90L112.04 224.10L112.04 224.10L114.84 224.10L114.84 226.90L114.84 226.90ZM119.38 226.90L119.38 224.10L119.42 224.10L120.09 224.10L120.77 224.10L121.44 224.10L122.11 224.10L122.78 224.10L123.46 224.10L124.13 224.10L124.52 224.10L127.32 224.10L127.32 226.90L126.93 226.90L126.26 226.90L125.58 226.90L124.91 226.90L124.24 226.90L123.57 226.90L122.89 226.90L122.22 226.90L122.18 226.90ZM131.67 226.90L131.67 224.10L131.67 224.10L134.47 224.10L134.47 226.90L134.47 226.90ZM139.01 226.90L139.01 224.10L139.04 224.10L139.72 224.10L140.39 224.10L141.06 224.10L141.73 224.10L142.41 224.10L143.08 224.10L143.75 224.10L144.16 224.10L146.96 224.10L146.96 226.90L146.55 226.90L145.88 226.90L145.21 226.90L144.53 226.90L143.86 226.90L143.19 226.90L142.52 226.90L141.84 226.90L141.81 226.90ZM151.30 226.89L151.30 224.09L151.30 224.09L154.10 224.09L154.10 226.89L154.10 226.89ZM158.64 226.85L158.64 224.05L158.67 224.05L159.34 224.04L160.01 224.03L160.68 224.02L161.36 224.01L162.03 223.99L162.70 223.97L163.37 223.95L163.79 223.94L166.59 223.94L166.59 226.74L166.17 226.75L165.50 226.77L164.83 226.79L164.16 226.81L163.48 226.82L162.81 226.83L162.14 226.84L161.47 226.85L161.44 226.85ZM170.93 226.24L170.93 223.44L170.93 223.44L173.73 223.44L173.73 226.24L173.73 226.24ZM178.27 224.78L178.27 221.98L178.29 221.97L178.96 221.76L179.63 221.53L180.31 221.28L180.98 221.02L181.65 220.74L182.33 220.43L183.00 220.11L183.42 219.90L186.22 219.90L186.22 222.70L185.80 222.91L185.13 223.23L184.45 223.54L183.78 223.82L183.11 224.08L182.43 224.33L181.76 224.56L181.09 224.77L181.07 224.78ZM190.56 217.60L190.56 214.80L190.56 214.80L193.36 214.80L193.36 217.60L193.36 217.60ZM196.93 210.31L196.93 207.51L196.96 207.47L197.63 206.53L198.30 205.56L198.98 204.55L199.65 203.51L200.32 202.44L200.37 202.36L203.17 202.36L203.17 205.16L203.12 205.24L202.45 206.31L201.78 207.35L201.10 208.36L200.43 209.33L199.76 210.27L199.73 210.31ZM204.42 198.01L204.42 195.21L204.42 195.21L207.22 195.21L207.22 198.01L207.22 198.01ZM208.03 190.68L208.03 187.88L208.06 187.81L208.73 186.35L209.40 184.86L210.08 183.35L210.35 182.73L213.15 182.73L213.15 185.53L212.88 186.15L212.20 187.66L211.53 189.15L210.86 190.61L210.83 190.68ZM213.37 178.38L213.37 175.58L213.37 175.58L216.17 175.58L216.17 178.38L216.17 178.38ZM216.29 171.05L216.29 168.25L216.30 168.22L216.97 166.48L217.65 164.73L218.27 163.10L221.07 163.10L221.07 165.90L220.45 167.53L219.77 169.28L219.10 171.02L219.09 171.05ZM220.93 158.75L220.93 155.95L220.93 155.95L223.73 155.95L223.73 158.75L223.73 158.75ZM223.61 151.42L223.61 148.62L223.65 148.51L224.32 146.64L224.99 144.77L225.46 143.47L228.26 143.47L228.26 146.27L227.79 147.57L227.12 149.44L226.45 151.31L226.41 151.42ZM228.02 139.12L228.02 136.32L228.02 136.32L230.82 136.32L230.82 139.12L230.82 139.12ZM230.65 131.78L230.65 128.98L230.65 128.97L231.33 127.10L232.00 125.24L232.51 123.84L235.31 123.84L235.31 126.64L234.80 128.04L234.13 129.90L233.45 131.77L233.45 131.78ZM235.11 119.49L235.11 116.69L235.11 116.69L237.91 116.69L237.91 119.49L237.91 119.49ZM237.84 112.15L237.84 109.35L237.89 109.24L238.56 107.46L239.23 105.69L239.80 104.21L242.60 104.21L242.60 107.01L242.03 108.49L241.36 110.26L240.69 112.04L240.64 112.15ZM242.60 99.86L242.60 97.06L242.60 97.06L245.40 97.06L245.40 99.86L245.40 99.86ZM245.59 92.52L245.59 89.72L245.62 89.65L246.30 88.04L246.97 86.46L247.64 84.89L247.78 84.57L250.58 84.57L250.58 87.37L250.44 87.69L249.77 89.26L249.10 90.84L248.42 92.45L248.39 92.52ZM250.97 80.23L250.97 77.43L250.97 77.43L253.77 77.43L253.77 80.23L253.77 80.23ZM254.46 72.89L254.46 70.09L254.48 70.05L255.15 68.70L255.83 67.37L256.50 66.07L257.09 64.94L259.89 64.94L259.89 67.74L259.30 68.87L258.63 70.17L257.95 71.50L257.28 72.85L257.26 72.89ZM261.02 60.60L261.02 57.80L261.02 57.80L263.82 57.80L263.82 60.60L263.82 60.60ZM265.52 53.26L265.52 50.46L265.53 50.45L266.20 49.43L266.87 48.42L267.55 47.44L268.22 46.47L268.89 45.53L269.04 45.31L271.84 45.31L271.84 48.11L271.69 48.33L271.02 49.27L270.35 50.24L269.67 51.22L269.00 52.23L268.33 53.25L268.32 53.26ZM274.64 40.97L274.64 38.17L274.64 38.17L277.44 38.17L277.44 40.97L277.44 40.97ZM281.56 33.70L281.56 30.90L281.62 30.85L282.29 30.23L282.96 29.62L283.64 29.03L284.31 28.45L284.98 27.88L285.65 27.33L286.33 26.79L286.71 26.49L289.51 26.49L289.51 29.29L289.13 29.59L288.45 30.13L287.78 30.68L287.11 31.25L286.44 31.83L285.76 32.42L285.09 33.03L284.42 33.65L284.36 33.70ZM293.86 24.35L293.86 21.55L293.86 21.55L296.66 21.55L296.66 24.35L296.66 24.35ZM301.19 20.47L301.19 17.67L301.24 17.65L301.91 17.35L302.59 17.05L303.26 16.76L303.93 16.48L304.60 16.21L305.28 15.94L305.95 15.68L306.34 15.53L309.14 15.53L309.14 18.33L308.75 18.48L308.08 18.74L307.40 19.01L306.73 19.28L306.06 19.56L305.39 19.85L304.71 20.15L304.04 20.45L303.99 20.47ZM313.49 16.00L313.49 13.20L313.49 13.20L316.29 13.20L316.29 16.00L316.29 16.00ZM320.83 14.21L320.83 11.41L320.86 11.41L321.54 11.27L322.21 11.13L322.88 11.00L323.55 10.88L324.23 10.75L324.90 10.63L325.57 10.52L325.97 10.45L328.77 10.45L328.77 13.25L328.37 13.32L327.70 13.43L327.03 13.55L326.35 13.68L325.68 13.80L325.01 13.93L324.34 14.07L323.66 14.21L323.63 14.21ZM333.12 12.21L333.12 9.41L333.12 9.41L335.92 9.41L335.92 12.21L335.92 12.21ZM340.46 11.43L340.46 8.63L340.49 8.63L341.16 8.57L341.83 8.51L342.51 8.45L343.18 8.40L343.85 8.34L344.52 8.29L345.20 8.24L345.60 8.21L348.40 8.21L348.40 11.01L348.00 11.04L347.32 11.09L346.65 11.14L345.98 11.20L345.31 11.25L344.63 11.31L343.96 11.37L343.29 11.43L343.26 11.43ZM352.75 10.57L352.75 7.77L352.75 7.77L355.55 7.77L355.55 10.57L355.55 10.57ZM360.09 10.24L360.09 7.44L360.11 7.44L360.78 7.41L361.46 7.39L362.13 7.37L362.80 7.34L363.47 7.32L364.15 7.30L364.82 7.28L365.24 7.26L368.04 7.26L368.04 10.06L367.62 10.08L366.95 10.10L366.27 10.12L365.60 10.14L364.93 10.17L364.26 10.19L363.58 10.21L362.91 10.24L362.89 10.24ZM372.38 9.88L372.38 7.08L372.38 7.08L375.18 7.08L375.18 9.88L375.18 9.88ZM379.72 9.74L379.72 6.94L379.73 6.94L380.41 6.93L381.08 6.92L381.75 6.91L382.42 6.90L383.10 6.89L383.77 6.88L384.44 6.88L384.87 6.87L387.67 6.87L387.67 9.67L387.24 9.68L386.57 9.68L385.90 9.69L385.22 9.70L384.55 9.71L383.88 9.72L383.21 9.73L382.53 9.74L382.52 9.74ZM392.01 9.59L392.01 6.79L392.01 6.79L394.81 6.79L394.81 9.59L394.81 9.59ZM399.35 9.54L399.35 6.74L399.36 6.74L400.03 6.73L400.70 6.73L401.37 6.73L402.05 6.72L402.72 6.72L403.39 6.72L404.07 6.71L404.50 6.71L407.30 6.71L407.30 9.51L406.87 9.51L406.19 9.52L405.52 9.52L404.85 9.52L404.17 9.53L403.50 9.53L402.83 9.53L402.16 9.54L402.15 9.54ZM411.64 9.48L411.64 6.68L411.64 6.68L414.44 6.68L414.44 9.48L414.44 9.48ZM418.98 9.46L418.98 6.66L419.03 6.66L419.71 6.65L420.38 6.65L421.05 6.65L421.73 6.65L422.40 6.65L423.07 6.65L423.74 6.64L424.13 6.64L426.93 6.64L426.93 9.44L426.54 9.44L425.87 9.45L425.20 9.45L424.53 9.45L423.85 9.45L423.18 9.45L422.51 9.45L421.83 9.46L421.78 9.46Z"/>
<path fill="#00a000" d="M93.62 226.90L93.62 224.10L93.63 224.10L94.30 224.10L94.97 224.10L95.65 224.10L96.32 224.10L96.99 224.10L97.67 224.10L98.34 224.10L98.57 224.10L101.37 224.10L101.37 226.90L101.14 226.90L100.47 226.90L99.79 226.90L99.12 226.90L98.45 226.90L97.77 226.90L97.10 226.90L96.43 226.90L96.42 226.90ZM109.12 226.90L109.12 224.10L109.16 224.10L109.83 224.10L110.50 224.10L111.18 224.10L111.85 224.10L112.52 224.10L113.20 224.10L113.87 224.10L114.07 224.10L116.87 224.10L116.87 226.90L116.67 226.90L116.00 226.90L115.32 226.90L114.65 226.90L113.98 226.90L113.30 226.90L112.63 226.90L111.96 226.90L111.92 226.90ZM124.62 226.90L124.62 224.10L124.63 224.10L125.31 224.10L125.98 224.10L126.65 224.10L127.32 224.10L128.00 224.10L128.67 224.10L129.34 224.10L129.57 224.10L132.37 224.10L132.37 226.90L132.14 226.90L131.47 226.90L130.80 226.90L130.12 226.90L129.45 226.90L128.78 226.90L128.11 226.90L127.43 226.90L127.42 226.90ZM140.12 226.90L140.12 224.10L140.16 224.10L140.84 224.10L141.51 224.10L142.18 224.10L142.85 224.10L143.53 224.10L144.20 224.10L144.87 224.10L145.07 224.10L147.87 224.10L147.87 226.90L147.67 226.90L147.00 226.90L146.33 226.90L145.65 226.90L144.98 226.90L144.31 226.90L143.64 226.90L142.96 226.90L142.92 226.90ZM155.62 226.90L155.62 224.10L155.64 224.10L156.31 224.10L156.98 224.10L157.66 224.10L158.33 224.10L159.00 224.10L159.67 224.10L160.35 224.10L160.57 224.10L163.37 224.10L163.37 226.90L163.15 226.90L162.47 226.90L161.80 226.90L161.13 226.90L160.46 226.90L159.78 226.90L159.11 226.90L158.44 226.90L158.42 226.90ZM171.12 226.90L171.12 224.10L171.17 224.10L171.84 224.10L172.51 224.10L173.19 224.10L173.86 224.10L174.53 224.10L175.20 224.10L175.88 224.10L176.07 224.10L178.87 224.10L178.87 226.90L178.68 226.90L178.00 226.90L177.33 226.90L176.66 226.90L175.99 226.90L175.31 226.90L174.64 226.90L173.97 226.90L173.92 226.90ZM186.62 226.90L186.62 224.10L186.64 224.10L187.32 224.09L187.99 224.09L188.66 224.09L189.33 224.09L190.01 224.09L190.68 224.08L191.35 224.08L191.57 224.08L194.37 224.08L194.37 226.88L194.15 226.88L193.48 226.88L192.81 226.89L192.13 226.89L191.46 226.89L190.79 226.89L190.12 226.89L189.44 226.90L189.42 226.90ZM202.12 226.67L202.12 223.87L202.17 223.87L202.85 223.84L203.52 223.80L204.19 223.76L204.86 223.72L205.54 223.67L206.21 223.61L206.88 223.55L207.07 223.53L209.87 223.53L209.87 226.33L209.68 226.35L209.01 226.41L208.34 226.47L207.66 226.52L206.99 226.56L206.32 226.60L205.65 226.64L204.97 226.67L204.92 226.67ZM217.62 224.08L217.62 221.28L217.65 221.28L218.32 221.02L218.99 220.74L219.66 220.45L220.34 220.14L221.01 219.80L221.68 219.45L222.36 219.07L222.57 218.95L225.37 218.95L225.37 221.75L225.16 221.87L224.48 222.25L223.81 222.60L223.14 222.94L222.46 223.25L221.79 223.54L221.12 223.82L220.45 224.08L220.42 224.08ZM232.79 212.72L232.79 209.92L232.84 209.87L233.51 209.03L234.19 208.17L234.86 207.27L235.53 206.34L236.20 205.38L236.49 204.97L239.29 204.97L239.29 207.77L239.00 208.18L238.33 209.14L237.66 210.07L236.99 210.97L236.31 211.83L235.64 212.67L235.59 212.72ZM242.73 197.22L242.73 194.42L242.76 194.36L243.44 193.06L244.11 191.73L244.78 190.37L245.22 189.47L248.02 189.47L248.02 192.27L247.58 193.17L246.91 194.53L246.24 195.86L245.56 197.16L245.53 197.22ZM250.00 181.72L250.00 178.92L250.05 178.80L250.73 177.21L251.40 175.60L252.07 173.97L254.87 173.97L254.87 176.77L254.20 178.40L253.53 180.01L252.85 181.60L252.80 181.72ZM256.24 166.22L256.24 163.42L256.28 163.33L256.95 161.57L257.62 159.79L258.12 158.47L260.92 158.47L260.92 161.27L260.42 162.59L259.75 164.37L259.08 166.13L259.04 166.22ZM262.02 150.72L262.02 147.92L262.05 147.84L262.72 145.99L263.40 144.14L263.82 142.97L266.62 142.97L266.62 145.77L266.20 146.94L265.52 148.79L264.85 150.64L264.82 150.72ZM267.64 135.22L267.64 132.42L267.66 132.36L268.33 130.50L269.00 128.65L269.43 127.47L272.23 127.47L272.23 130.27L271.80 131.45L271.13 133.30L270.46 135.16L270.44 135.22ZM273.30 119.72L273.30 116.92L273.32 116.86L273.99 115.05L274.67 113.25L275.14 111.97L277.94 111.97L277.94 114.77L277.47 116.05L276.79 117.85L276.12 119.66L276.10 119.72ZM279.19 104.22L279.19 101.42L279.21 101.39L279.88 99.69L280.55 97.99L281.16 96.47L283.96 96.47L283.96 99.27L283.35 100.79L282.68 102.49L282.01 104.19L281.99 104.22ZM285.55 88.72L285.55 85.92L285.60 85.82L286.27 84.27L286.94 82.74L287.62 81.23L287.73 80.97L290.53 80.97L290.53 83.77L290.42 84.03L289.74 85.54L289.07 87.07L288.40 88.62L288.35 88.72ZM292.70 73.22L292.70 70.42L292.72 70.38L293.39 69.03L294.06 67.70L294.74 66.39L295.22 65.47L298.02 65.47L298.02 68.27L297.54 69.19L296.86 70.50L296.19 71.83L295.52 73.18L295.50 73.22ZM301.15 57.72L301.15 54.92L301.18 54.87L301.86 53.78L302.53 52.70L303.20 51.64L303.88 50.60L304.29 49.97L307.09 49.97L307.09 52.77L306.68 53.40L306.00 54.44L305.33 55.50L304.66 56.58L303.98 57.67L303.95 57.72ZM312.06 42.22L312.06 39.42L312.06 39.42L312.73 38.62L313.41 37.83L314.08 37.06L314.75 36.31L315.43 35.57L316.10 34.85L316.45 34.47L319.25 34.47L319.25 37.27L318.90 37.65L318.23 38.37L317.55 39.11L316.88 39.86L316.21 40.63L315.53 41.42L314.86 42.22L314.86 42.22ZM326.97 27.97L326.97 25.17L326.97 25.16L327.65 24.67L328.32 24.20L328.99 23.73L329.67 23.28L330.34 22.83L331.01 22.40L331.68 21.98L331.92 21.84L334.72 21.84L334.72 24.64L334.48 24.78L333.81 25.20L333.14 25.63L332.47 26.08L331.79 26.53L331.12 27.00L330.45 27.47L329.77 27.96L329.77 27.97ZM342.47 19.29L342.47 16.49L342.51 16.47L343.18 16.20L343.85 15.93L344.52 15.67L345.20 15.42L345.87 15.17L346.54 14.93L347.21 14.70L347.42 14.63L350.22 14.63L350.22 17.43L350.01 17.50L349.34 17.73L348.67 17.97L348.00 18.22L347.32 18.47L346.65 18.73L345.98 19.00L345.31 19.27L345.27 19.29ZM357.97 14.52L357.97 11.72L357.98 11.72L358.65 11.57L359.32 11.43L360.00 11.29L360.67 11.15L361.34 11.02L362.02 10.90L362.69 10.77L362.92 10.73L365.72 10.73L365.72 13.53L365.49 13.57L364.82 13.70L364.14 13.82L363.47 13.95L362.80 14.09L362.12 14.23L361.45 14.37L360.78 14.52L360.77 14.52ZM373.47 12.00L373.47 9.20L373.51 9.19L374.18 9.12L374.85 9.04L375.53 8.97L376.20 8.90L376.87 8.84L377.55 8.77L378.22 8.71L378.42 8.69L381.22 8.69L381.22 11.49L381.02 11.51L380.35 11.57L379.67 11.64L379.00 11.70L378.33 11.77L377.65 11.84L376.98 11.92L376.31 11.99L376.27 12.00ZM388.97 10.70L388.97 7.90L388.98 7.90L389.66 7.86L390.33 7.82L391.00 7.79L391.67 7.75L392.35 7.72L393.02 7.68L393.69 7.65L393.92 7.64L396.72 7.64L396.72 10.44L396.49 10.45L395.82 10.48L395.15 10.52L394.47 10.55L393.80 10.59L393.13 10.62L392.46 10.66L391.78 10.70L391.77 10.70ZM404.47 10.05L404.47 7.25L404.51 7.24L405.19 7.22L405.86 7.21L406.53 7.19L407.20 7.17L407.88 7.15L408.55 7.14L409.22 7.12L409.42 7.12L412.22 7.12L412.22 9.92L412.02 9.92L411.35 9.94L410.68 9.95L410.00 9.97L409.33 9.99L408.66 10.01L407.99 10.02L407.31 10.04L407.27 10.05ZM419.97 9.72L419.97 6.92L419.99 6.92L420.66 6.91L421.33 6.90L422.01 6.89L422.68 6.88L423.35 6.87L424.02 6.86L424.70 6.86L424.92 6.85L427.72 6.85L427.72 9.65L427.50 9.66L426.82 9.66L426.15 9.67L425.48 9.68L424.81 9.69L424.13 9.70L423.46 9.71L422.79 9.72L422.77 9.72Z"/>
<path fill="#ff2200" d="M91.91 224.00h2.65v3.00h-2.65zM96.11 224.00h2.65v3.00h-2.65zM100.31 224.00h2.65v3.00h-2.65zM104.51 224.00h2.65v3.00h-2.65zM108.71 224.00h2.65v3.00h-2.65zM112.91 224.00h2.65v3.00h-2.65zM117.11 224.00h2.65v3.00h-2.65zM121.31 224.00h2.65v3.00h-2.65zM125.51 224.00h2.65v3.00h-2.65zM129.71 224.00h2.65v3.00h-2.65zM133.91 224.00h2.65v3.00h-2.65zM138.11 224.00h2.65v3.00h-2.65zM142.31 224.00h2.65v3.00h-2.65zM146.51 224.00h2.65v3.00h-2.65zM150.71 224.00h2.65v3.00h-2.65zM154.91 224.00h2.65v3.00h-2.65zM159.11 224.00h2.65v3.00h-2.65zM163.31 224.00h2.65v3.00h-2.65zM167.51 224.00h2.65v3.00h-2.65zM171.71 224.00h2.65v3.00h-2.65zM175.91 224.00h2.65v3.00h-2.65zM180.11 224.00h2.65v3.00h-2.65zM184.31 224.00h2.65v3.00h-2.65zM188.51 224.00h2.65v3.00h-2.65zM192.71 224.00h2.65v3.00h-2.65zM196.91 224.00h2.65v3.00h-2.65zM201.11 224.00h2.65v3.00h-2.65zM205.31 224.00h2.65v3.00h-2.65zM209.51 223.99h2.65v3.00h-2.65zM213.71 223.96h2.65v3.00h-2.65zM217.91 223.90h2.65v3.00h-2.65zM222.11 223.76h2.65v3.00h-2.65zM226.31 223.47h2.65v2.99h-2.65zM230.51 222.94h2.65v2.98h-2.65zM234.71 222.04h2.65v2.95h-2.65zM238.91 220.61h2.65v2.89h-2.65zM243.11 218.47h2.65v2.81h-2.65zM247.31 215.42h2.65v2.70h-2.65zM251.40 211.40h2.65v2.65h-2.65zM254.79 207.20h2.65v2.65h-2.65zM257.67 203.00h2.65v2.65h-2.65zM260.22 198.80h2.65v2.65h-2.65zM262.53 194.60h2.65v2.65h-2.65zM264.67 190.40h2.65v2.65h-2.65zM266.68 186.20h2.65v2.65h-2.65zM268.58 182.00h2.65v2.65h-2.65zM270.40 177.80h2.65v2.65h-2.65zM272.15 173.60h2.65v2.65h-2.65zM273.84 169.40h2.65v2.65h-2.65zM275.49 165.20h2.65v2.65h-2.65zM277.11 161.00h2.65v2.65h-2.65zM278.69 156.80h2.65v2.65h-2.65zM280.25 152.60h2.65v2.65h-2.65zM281.80 148.40h2.65v2.65h-2.65zM283.33 144.20h2.65v2.65h-2.65zM284.86 140.00h2.65v2.65h-2.65zM286.38 135.80h2.65v2.65h-2.65zM287.90 131.60h2.65v2.65h-2.65zM289.43 127.40h2.65v2.65h-2.65zM290.96 123.20h2.65v2.65h-2.65zM292.51 119.00h2.65v2.65h-2.65zM294.07 114.80h2.65v2.65h-2.65zM295.65 110.60h2.65v2.65h-2.65zM297.25 106.40h2.65v2.65h-2.65zM298.88 102.20h2.65v2.65h-2.65zM300.55 98.00h2.65v2.65h-2.65zM302.25 93.80h2.65v2.65h-2.65zM303.99 89.60h2.65v2.65h-2.65zM305.79 85.40h2.65v2.65h-2.65zM307.64 81.20h2.65v2.65h-2.65zM309.56 77.00h2.65v2.65h-2.65zM311.55 72.80h2.65v2.65h-2.65zM313.63 68.60h2.65v2.65h-2.65zM315.81 64.40h2.65v2.65h-2.65zM318.11 60.20h2.65v2.65h-2.65zM320.55 56.00h2.65v2.65h-2.65zM323.14 51.80h2.65v2.65h-2.65zM325.94 47.60h2.65v2.65h-2.65zM328.98 43.40h2.65v2.65h-2.65zM332.31 39.20h2.65v2.65h-2.65zM336.03 35.00h2.65v2.65h-2.65zM340.17 30.87h2.65v2.68h-2.65zM344.37 27.21h2.65v2.72h-2.65zM348.57 24.05h2.65v2.77h-2.65zM352.77 21.32h2.65v2.82h-2.65zM356.97 18.99h2.65v2.86h-2.65zM361.17 17.00h2.65v2.89h-2.65zM365.37 15.31h2.65v2.92h-2.65zM369.57 13.87h2.65v2.94h-2.65zM373.77 12.66h2.65v2.95h-2.65zM377.97 11.64h2.65v2.97h-2.65zM382.17 10.78h2.65v2.98h-2.65zM386.37 10.07h2.65v2.98h-2.65zM390.57 9.46h2.65v2.99h-2.65zM394.77 8.96h2.65v2.99h-2.65zM398.97 8.54h2.65v2.99h-2.65zM403.17 8.19h2.65v3.00h-2.65zM407.37 7.90h2.65v3.00h-2.65zM411.57 7.66h2.65v3.00h-2.65zM415.77 7.46h2.65v3.00h-2.65zM419.97 7.29h2.65v3.00h-2.65zM424.17 7.16h2.65v3.00h-2.65z"/>
<path fill="none" stroke="#000" stroke-width="2.7" stroke-dasharray="5.7 2.0 2.1 2.0 2.1 2.0" d="M349.2 32.3H390.5"/>
<path fill="none" stroke="#000" stroke-width="2.7" stroke-dasharray="5 4.7" d="M349.2 67.7H384.0"/>
<path fill="none" stroke="#000" stroke-width="2.7" d="M349.2 103.3H390.5"/>
<path fill="none" stroke="#0044dd" stroke-width="2.9" stroke-dasharray="8.3 4.6 2.8 4.8" d="M349.2 139.3H390.0"/>
<path fill="none" stroke="#00a000" stroke-width="2.9" stroke-dasharray="8 8.3" d="M349.2 174.8H390.5"/>
<path fill="none" stroke="#ff2200" stroke-width="3.0" stroke-dasharray="2.7 1.53" d="M349.2 210.8H390.5"/>
<g opacity="0.999">
<clipPath id="k1"><path d="M0 -22.19H13.31V-2.88H7.66V1.11H5.44V-2.88H0Z"/></clipPath><text clip-path="url(#k1)" transform="translate(48.19 15.58) scale(0.9559 1)" font-size="22.19">1</text><text transform="translate(59.41 15.58) scale(1.0649 1)" font-size="22.19">.0</text>
<text transform="translate(47.09 59.06) scale(1.0202 1)" font-size="22.19">0.8</text>
<text transform="translate(46.99 102.54) scale(1.0202 1)" font-size="22.19">0.6</text>
<text transform="translate(46.99 146.02) scale(1.0222 1)" font-size="22.19">0.4</text>
<text transform="translate(47.00 189.50) scale(1.0122 1)" font-size="22.19">0.2</text>
<text transform="translate(47.09 232.98) scale(1.0266 1)" font-size="22.19">0.0</text>
<text transform="translate(86.68 244.60) scale(1.0700 1)" font-size="14.20">2</text>
<text transform="translate(121.45 244.56) scale(1.0700 1)" font-size="14.20">3</text>
<text transform="translate(146.08 244.60) scale(1.0700 1)" font-size="14.20">4</text>
<text transform="translate(165.16 244.56) scale(1.0700 1)" font-size="14.20">5</text>
<text transform="translate(180.71 244.56) scale(1.0700 1)" font-size="14.20">6</text>
<text transform="translate(283.88 244.60) scale(1.0700 1)" font-size="14.20">2</text>
<text transform="translate(318.65 244.56) scale(1.0700 1)" font-size="14.20">3</text>
<text transform="translate(343.28 244.60) scale(1.0700 1)" font-size="14.20">4</text>
<text transform="translate(362.36 244.56) scale(1.0700 1)" font-size="14.20">5</text>
<text transform="translate(377.91 244.56) scale(1.0700 1)" font-size="14.20">6</text>
<clipPath id="k2"><path d="M0 -22.00H13.20V-2.86H7.59V1.10H5.39V-2.86H0Z"/></clipPath><text clip-path="url(#k2)" transform="translate(216.46 264.20) scale(0.9814 1)" font-size="22.00">1</text>
<text transform="translate(228.58 264.20) scale(1.0471 1)" font-size="22.00">0</text>
<clipPath id="k3"><path d="M0 -22.00H13.20V-2.86H7.59V1.10H5.39V-2.86H0Z"/></clipPath><text clip-path="url(#k3)" transform="translate(407.65 264.20) scale(0.9298 1)" font-size="22.00">1</text>
<text transform="translate(419.05 264.20) scale(1.0757 1)" font-size="22.00">0</text>
<text transform="translate(432.38 264.20) scale(1.0471 1)" font-size="22.00">0</text>
<text transform="translate(249.02 280.60) scale(1.1116 1)" font-size="22.00">λ</text>
<text transform="translate(260.60 283.33) scale(0.8470 1)" font-size="26.80">/</text>
<text transform="translate(267.48 280.60) scale(1.0924 1)" font-size="22.00">Δ</text>
<text transform="translate(283.33 280.60) scale(0.9688 1)" font-size="22.60">x</text>
<text transform="translate(18.85 141.57) rotate(-90) scale(0.9485 1)" font-size="24.63">Gain</text>
<text transform="translate(400.10 38.29) scale(1.0929 1)" font-size="20.54">g</text>
<text transform="translate(400.10 74.03) scale(1.0929 1)" font-size="20.54">g</text>
<text transform="translate(422.37 73.74) scale(0.9767 1)" font-size="20.00">c</text>
<text transform="translate(433.34 80.74) scale(1.0754 1)" font-size="13.90">3</text><text transform="translate(442.80 80.74) scale(1.0889 1)" font-size="13.90">/</text><text transform="translate(448.33 80.74) scale(1.2491 1)" font-size="13.90">2</text>
<text transform="translate(400.10 109.77) scale(1.0929 1)" font-size="20.54">g</text>
<text transform="translate(427.00 109.48) scale(0.9419 1)" font-size="20.00">c</text>
<text transform="translate(411.95 97.26) scale(1.1254 1)" font-size="13.90">4</text>
<text transform="translate(437.52 116.48) scale(1.1056 1)" font-size="13.90">3</text>
<text transform="translate(400.10 145.51) scale(1.0929 1)" font-size="20.54">g</text>
<text transform="translate(435.97 145.22) scale(0.9767 1)" font-size="20.00">c</text>
<text transform="translate(412.35 133.00) scale(1.0752 1)" font-size="13.90">2</text><text transform="translate(421.41 133.00) scale(1.0547 1)" font-size="13.90">0</text>
<clipPath id="k4"><path d="M0 -13.90H8.34V-1.81H4.80V0.70H3.41V-1.81H0Z"/></clipPath><text clip-path="url(#k4)" transform="translate(447.53 152.22) scale(1.1990 1)" font-size="13.90">1</text><clipPath id="k5"><path d="M0 -13.90H8.34V-1.81H4.80V0.70H3.41V-1.81H0Z"/></clipPath><text clip-path="url(#k5)" transform="translate(454.78 152.22) scale(1.2535 1)" font-size="13.90">1</text>
<text transform="translate(400.10 181.25) scale(1.0929 1)" font-size="20.54">g</text>
<text transform="translate(435.97 180.96) scale(0.9767 1)" font-size="20.00">c</text>
<text transform="translate(412.85 168.74) scale(0.9845 1)" font-size="13.90">5</text><text transform="translate(421.41 168.74) scale(1.0547 1)" font-size="13.90">0</text>
<text transform="translate(446.13 187.96) scale(1.1068 1)" font-size="13.90">2</text><text transform="translate(455.32 187.96) scale(1.1200 1)" font-size="13.90">6</text>
<text transform="translate(400.10 216.99) scale(1.0929 1)" font-size="20.54">g</text>
<text transform="translate(435.97 216.70) scale(0.9767 1)" font-size="20.00">c</text>
<text transform="translate(412.49 204.48) scale(1.0409 1)" font-size="13.90">8</text><text transform="translate(421.41 204.48) scale(1.0547 1)" font-size="13.90">0</text>
<text transform="translate(446.38 223.70) scale(1.0257 1)" font-size="13.90">4</text><clipPath id="k6"><path d="M0 -13.90H8.34V-1.81H4.80V0.70H3.41V-1.81H0Z"/></clipPath><text clip-path="url(#k6)" transform="translate(454.78 223.70) scale(1.2535 1)" font-size="13.90">1</text>
</g>
</svg></body></html>
